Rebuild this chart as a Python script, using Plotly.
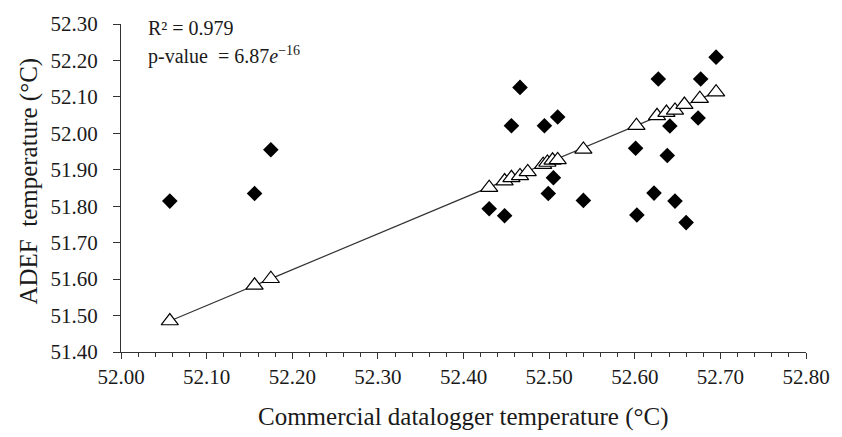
import plotly.graph_objects as go

# Measured (ADEF) vs commercial datalogger temperatures
meas_x = [52.057, 52.156, 52.175, 52.430, 52.448, 52.456, 52.466, 52.4945, 52.499, 52.505,
          52.510, 52.540, 52.601, 52.6025, 52.6225, 52.6275, 52.638, 52.641, 52.647, 52.660,
          52.674, 52.677, 52.695]
meas_y = [51.814, 51.835, 51.955, 51.793, 51.774, 52.021, 52.126, 52.021, 51.835, 51.878,
          52.045, 51.816, 51.959, 51.776, 51.836, 52.149, 51.939, 52.020, 51.814, 51.755,
          52.042, 52.149, 52.209]

# Predicted values (regression)
pred_x = [52.057, 52.156, 52.175, 52.430, 52.448, 52.456, 52.466, 52.475, 52.493, 52.498,
          52.504, 52.510, 52.540, 52.602, 52.626, 52.637, 52.647, 52.658, 52.676, 52.695]
pred_y = [51.485, 51.583, 51.601, 51.851, 51.869, 51.878, 51.883, 51.894, 51.914, 51.920,
          51.926, 51.927, 51.956, 52.021, 52.048, 52.057, 52.063, 52.079, 52.095, 52.113]

x_range = [52.00, 52.80]
y_range = [51.40, 52.30]
r2_text = "0.979"
p_mant = "6.87"
p_exp = "−16"
x_title = "Commercial datalogger temperature (°C)"
y_title = "ADEF  temperature (°C)"

FONT = "Liberation Serif, Times New Roman, serif"
TXT = "#1a1a1a"

fig = go.Figure()
fig.add_trace(go.Scatter(
    x=[pred_x[0], pred_x[-1]], y=[pred_y[0], pred_y[-1]], mode="lines",
    line=dict(color="#333333", width=1.2), hoverinfo="skip", showlegend=False))
fig.add_trace(go.Scatter(
    x=meas_x, y=meas_y, mode="markers",
    marker=dict(symbol="diamond", size=12, color="black", line=dict(width=0)),
    showlegend=False))
fig.add_trace(go.Scatter(
    x=pred_x, y=pred_y, mode="markers",
    marker=dict(symbol="triangle-up", size=15, color="white",
                line=dict(color="black", width=1.2)),
    showlegend=False))

fig.add_annotation(
    xref="paper", yref="paper", x=0.0365, y=0.947, xanchor="left", yanchor="bottom",
    align="left", showarrow=False, text=f"R² = {r2_text}",
    font=dict(family=FONT, size=20, color=TXT))
fig.add_annotation(
    xref="paper", yref="paper", x=0.0365, y=0.947, xanchor="left", yanchor="top",
    align="left", showarrow=False,
    text=f"p-value  = {p_mant}<i>e</i><sup>{p_exp}</sup>",
    font=dict(family=FONT, size=20, color=TXT))

# axis titles placed as annotations
fig.add_annotation(
    xref="paper", yref="paper", x=-0.1346, y=0.522, xanchor="center", yanchor="middle",
    textangle=-90, showarrow=False, text=y_title,
    font=dict(family=FONT, size=25, color=TXT))
fig.add_annotation(
    xref="paper", yref="paper", x=0.5, y=-0.197, xanchor="center", yanchor="middle",
    showarrow=False, text=x_title,
    font=dict(family=FONT, size=25, color=TXT))

fig.update_layout(
    width=842, height=437,
    margin=dict(l=121, r=30, t=18, b=85),
    paper_bgcolor="white", plot_bgcolor="white",
    font=dict(family=FONT, color=TXT),
    xaxis=dict(
        range=x_range, dtick=0.1, tick0=52.0, tickformat=".2f",
        showgrid=False, zeroline=False, showline=True, linecolor="#333333", linewidth=1.2,
        ticks="outside", ticklen=6, tickcolor="#333333", tickwidth=1.2,
        minor=dict(dtick=0.02, ticks="outside", ticklen=4, tickcolor="#333333", tickwidth=1.2, showgrid=False),
        tickfont=dict(family=FONT, size=21, color=TXT)),
    yaxis=dict(
        range=y_range, dtick=0.1, tick0=51.4, tickformat=".2f",
        showgrid=False, zeroline=False, showline=True, linecolor="#333333", linewidth=1.2,
        ticks="outside", ticklen=7, tickcolor="#333333", tickwidth=1.2,
        ticklabelstandoff=11,
        tickfont=dict(family=FONT, size=21, color=TXT)),
)

fig.write_html("out.html")
